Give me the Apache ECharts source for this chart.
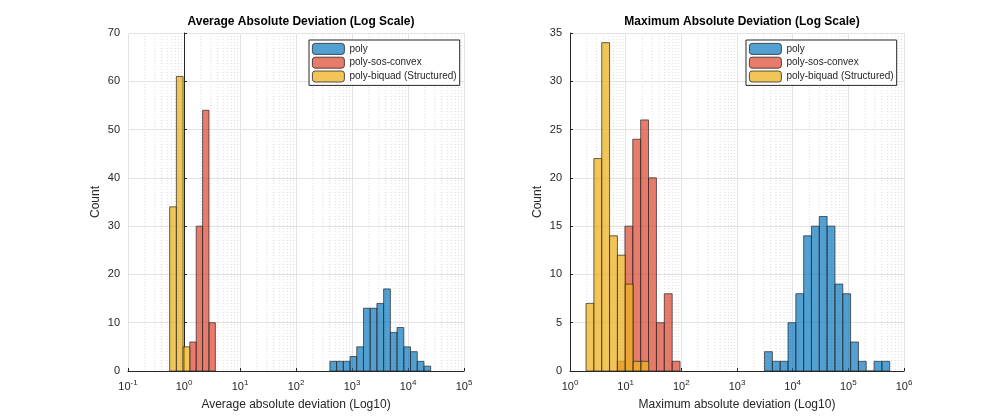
<!DOCTYPE html>
<html>
<head>
<meta charset="UTF-8">
<title>Absolute Deviation</title>
<style>
  body { margin: 0; background: #fff; }
  #chart { width: 1000px; height: 417px; }
</style>
</head>
<body>
<div id="chart"></div>
<script src="https://cdn.jsdelivr.net/npm/echarts@6/dist/echarts.min.js"></script>
<script>
// histogram bins: log10 of first left edge, bin width (decades), counts
var seriesNames = ['poly', 'poly-sos-convex', 'poly-biquad (Structured)'];
var colors = ['rgba(0,114,189,0.68)', 'rgba(222,60,35,0.68)', 'rgba(237,177,32,0.75)'];

var avgStart = [2.605, 0.104, -0.256];
var avgWidth = [0.12, 0.114, 0.12];
var avgPoly = [2, 2, 2, 3, 5, 13, 13, 14, 17, 8, 9, 5, 4, 2, 1];
var avgSos = [6, 30, 54, 10];
var avgBiquad = [34, 61, 5];

var maxStart = [3.495, 0.845, 0.288];
var maxWidth = [0.1405, 0.1415, 0.141];
var maxPoly = [2, 1, 1, 5, 8, 14, 15, 16, 15, 9, 8, 3, 1, 0, 1, 1];
var maxSos = [1, 15, 24, 26, 20, 5, 8, 1];
var maxBiquad = [7, 22, 34, 14, 12, 9, 1, 1];

var avgXRange = [-1, 5];
var maxXRange = [0, 6];

function toBins(start, width, counts) {
  return counts.map(function (c, i) {
    return [start + i * width, start + (i + 1) * width, c];
  });
}

function renderBar(params, api) {
  var p0 = api.coord([api.value(0), api.value(2)]);
  var p1 = api.coord([api.value(1), 0]);
  return {
    type: 'rect',
    shape: { x: p0[0], y: p0[1], width: p1[0] - p0[0], height: p1[1] - p0[1] },
    style: { fill: api.visual('color'), stroke: 'rgba(40,40,40,0.9)', lineWidth: 0.8 }
  };
}

// minor log grid positions
function minorGrid(range) {
  var out = [];
  for (var d = range[0]; d < range[1]; d++) {
    for (var k = 2; k <= 9; k++) out.push([d + Math.log10(k)]);
  }
  return out;
}

function renderMinor(params, api) {
  var cs = params.coordSys;
  var x = api.coord([api.value(0), 0])[0];
  return {
    type: 'line',
    shape: { x1: x, y1: cs.y, x2: x, y2: cs.y + cs.height },
    style: { stroke: '#d4d4d4', lineWidth: 0.8, lineDash: [1, 2] }
  };
}

function logLabel(v) {
  return '10{sup|' + (v < 0 ? '-' : '') + Math.abs(v) + '}';
}

var font = 'Liberation Sans, Arial, sans-serif';
var axisText = { color: '#262626', fontSize: 11, fontFamily: font };

function xAxis(idx, range, name) {
  return {
    gridIndex: idx, type: 'value', min: range[0], max: range[1], interval: 1,
    name: name, nameLocation: 'middle', nameGap: 28,
    nameTextStyle: { color: '#262626', fontSize: 12, fontFamily: font },
    axisLine: { lineStyle: { color: '#262626' } },
    axisTick: { inside: true, length: 3, lineStyle: { color: '#262626' } },
    splitLine: { lineStyle: { color: '#e3e3e3' } },
    axisLabel: {
      formatter: logLabel, margin: 8, color: '#262626', fontSize: 11, fontFamily: font,
      rich: { sup: { fontSize: 8, verticalAlign: 'top', padding: [0, 0, 8, 0], color: '#262626', fontFamily: font } }
    }
  };
}

function yAxis(idx, max, step) {
  return {
    gridIndex: idx, type: 'value', min: 0, max: max, interval: step,
    name: 'Count', nameLocation: 'middle', nameGap: 26,
    nameTextStyle: { color: '#262626', fontSize: 12, fontFamily: font },
    axisLine: { show: true, lineStyle: { color: '#262626' } },
    axisTick: { show: true, inside: true, length: 3 },
    splitLine: { lineStyle: { color: '#e3e3e3' } },
    axisLabel: axisText
  };
}

function histSeries(idx, starts, widths, lists) {
  return lists.map(function (l, i) {
    return {
      name: seriesNames[i], type: 'custom', xAxisIndex: idx, yAxisIndex: idx,
      renderItem: renderBar, itemStyle: { color: colors[i] },
      encode: { x: [0, 1], y: 2 }, data: toBins(starts[i], widths[i], l), z: 3 + i
    };
  });
}

function legend(left) {
  return {
    data: seriesNames, orient: 'vertical', left: left, top: 40,
    itemWidth: 32, itemHeight: 11, itemGap: 2,
    backgroundColor: '#fff', borderColor: '#262626', borderWidth: 1,
    padding: [3, 3, 3, 3], textStyle: { color: '#262626', fontSize: 10, fontFamily: font },
    itemStyle: { borderColor: '#262626', borderWidth: 0.8 }, selectedMode: false
  };
}

var chart = echarts.init(document.getElementById('chart'));
chart.setOption({
  animation: false,
  title: [
    { text: 'Average Absolute Deviation (Log Scale)', left: 296, top: 11, textAlign: 'center',
      textStyle: { fontSize: 12, fontWeight: 'bold', color: '#000', fontFamily: font } },
    { text: 'Maximum Absolute Deviation (Log Scale)', left: 737, top: 11, textAlign: 'center',
      textStyle: { fontSize: 12, fontWeight: 'bold', color: '#000', fontFamily: font } }
  ],
  legend: [legend(309), legend(746)],
  grid: [
    { left: 128, width: 336, top: 33, height: 338 },
    { left: 570, width: 334, top: 33, height: 338 }
  ],
  xAxis: [xAxis(0, avgXRange, 'Average absolute deviation (Log10)'),
          xAxis(1, maxXRange, 'Maximum absolute deviation (Log10)')],
  yAxis: [yAxis(0, 70, 10), yAxis(1, 35, 5)],
  series: [
    { type: 'custom', xAxisIndex: 0, yAxisIndex: 0, renderItem: renderMinor,
      data: minorGrid(avgXRange), z: 1, silent: true },
    { type: 'custom', xAxisIndex: 1, yAxisIndex: 1, renderItem: renderMinor,
      data: minorGrid(maxXRange), z: 1, silent: true }
  ].concat(histSeries(0, avgStart, avgWidth, [avgPoly, avgSos, avgBiquad]))
   .concat(histSeries(1, maxStart, maxWidth, [maxPoly, maxSos, maxBiquad]))
});
</script>
</body>
</html>
